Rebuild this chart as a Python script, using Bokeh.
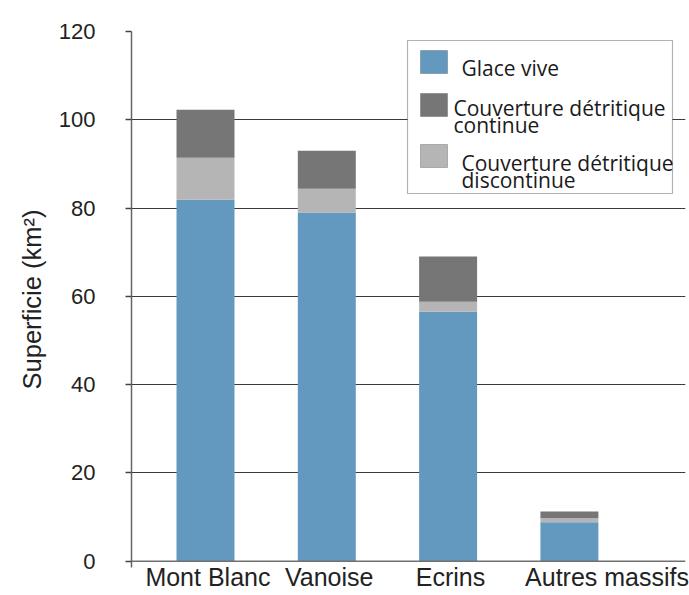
from bokeh.plotting import figure
from bokeh.models import (Range1d, FixedTicker, Span, Label, BoxAnnotation,
                          ColumnDataSource)
from bokeh.embed import file_html
from bokeh.resources import INLINE

# ---- data -------------------------------------------------------------
massifs = ["Mont Blanc", "Vanoise", "Ecrins", "Autres massifs"]
glace_vive = [81.9, 79.0, 56.5, 8.8]
couv_discontinue = [9.5, 5.4, 2.3, 0.95]
couv_continue = [10.9, 8.6, 10.2, 1.5]
y_ticks = [0, 20, 40, 60, 80, 100, 120]
series_labels = [["Glace vive"],
                 ["Couverture détritique", "continue"],
                 ["Couverture détritique", "discontinue"]]

# ---- style ------------------------------------------------------------
BLUE, DARK, LIGHT = "#6399BF", "#767676", "#B5B5B5"
FONT = "Liberation Sans"
label_shift = [0.02, 0.02, 0.02, 0.31]   # tick-label nudges (layout only)

xs = list(range(len(massifs)))
source = ColumnDataSource(dict(x=xs, glace=glace_vive,
                               disc=couv_discontinue, cont=couv_continue))

p = figure(width=689, height=595, output_backend="svg", toolbar_location=None,
           x_range=Range1d(-0.61, 3.957), y_range=Range1d(-1.43, 120),
           min_border_left=131, min_border_right=4, min_border_top=31,
           min_border_bottom=28, outline_line_color=None)

p.vbar_stack(["glace", "disc", "cont"], x="x", width=0.478, source=source,
             fill_color=[BLUE, LIGHT, DARK], line_color=None)

# y axis
yax = p.yaxis[0]
yax.ticker = FixedTicker(ticks=y_ticks)
yax.axis_label = "Superficie (km²)"
yax.axis_label_text_font = FONT
yax.axis_label_text_font_size = "25.5px"
yax.axis_label_text_font_style = "normal"
yax.axis_label_text_color = "#222222"
yax.axis_label_standoff = 10
yax.major_label_text_font = FONT
yax.major_label_text_font_size = "22px"
yax.major_label_text_color = "#222222"
yax.major_label_standoff = 30
yax.major_tick_out = 6
yax.major_tick_in = 0
yax.major_tick_line_color = "#444444"
yax.major_tick_line_width = 1.3
yax.minor_tick_line_color = None
yax.axis_line_color = "#666666"
yax.axis_line_width = 1.5

# x axis (category labels)
xax = p.xaxis[0]
tick_pos = [i + s for i, s in zip(xs, label_shift)]
xax.ticker = FixedTicker(ticks=tick_pos)
xax.major_label_overrides = {t: m for t, m in zip(tick_pos, massifs)}
xax.major_label_text_font = FONT
xax.major_label_text_font_size = "25px"
xax.major_label_text_color = "#222222"
xax.major_label_standoff = -5
xax.major_tick_out = 0
xax.major_tick_in = 0
xax.major_tick_line_color = None
xax.minor_tick_line_color = None
xax.axis_line_color = None

# grid
p.xgrid.visible = False
p.ygrid.ticker = FixedTicker(ticks=[t for t in y_ticks if t != 0])
p.ygrid.grid_line_color = "#3a3a3a"
p.ygrid.grid_line_width = 1.2

p.add_layout(Span(location=0, dimension="width", line_color="#707070",
                  line_width=1.6))

# ---- legend (screen units relative to the plot frame, y upwards) -------
FB = 567          # frame bottom in canvas pixels
FL = 131          # frame left in canvas pixels
def sx(px): return px - FL
def sy(py): return FB - py

p.add_layout(BoxAnnotation(left=sx(407), right=sx(672), top=sy(40), bottom=sy(193),
                           left_units="screen", right_units="screen",
                           top_units="screen", bottom_units="screen",
                           fill_color="white", fill_alpha=1,
                           line_color="black", line_width=1.2, level="annotation"))

swatch_tops = [50, 93, 144]
text_x = [461, 453, 461]
text_baselines = [[67], [107, 124], [162, 179]]
for lines, col, top, tx, bls in zip(series_labels, [BLUE, DARK, LIGHT],
                                    swatch_tops, text_x, text_baselines):
    p.add_layout(BoxAnnotation(left=sx(420), right=sx(447), top=sy(top),
                               bottom=sy(top + 23),
                               left_units="screen", right_units="screen",
                               top_units="screen", bottom_units="screen",
                               fill_color=col, fill_alpha=1,
                               line_color="#3a3a3a", line_width=1,
                               level="annotation"))
    for line, bl in zip(lines, bls):
        p.add_layout(Label(x=sx(tx), y=sy(bl), x_units="screen", y_units="screen",
                           text=line, text_font="Open Sans",
                           text_font_size="21px", text_color="#1a1a1a",
                           text_baseline="alphabetic", text_align="left"))

open("out.html", "w").write(file_html(p, INLINE))
